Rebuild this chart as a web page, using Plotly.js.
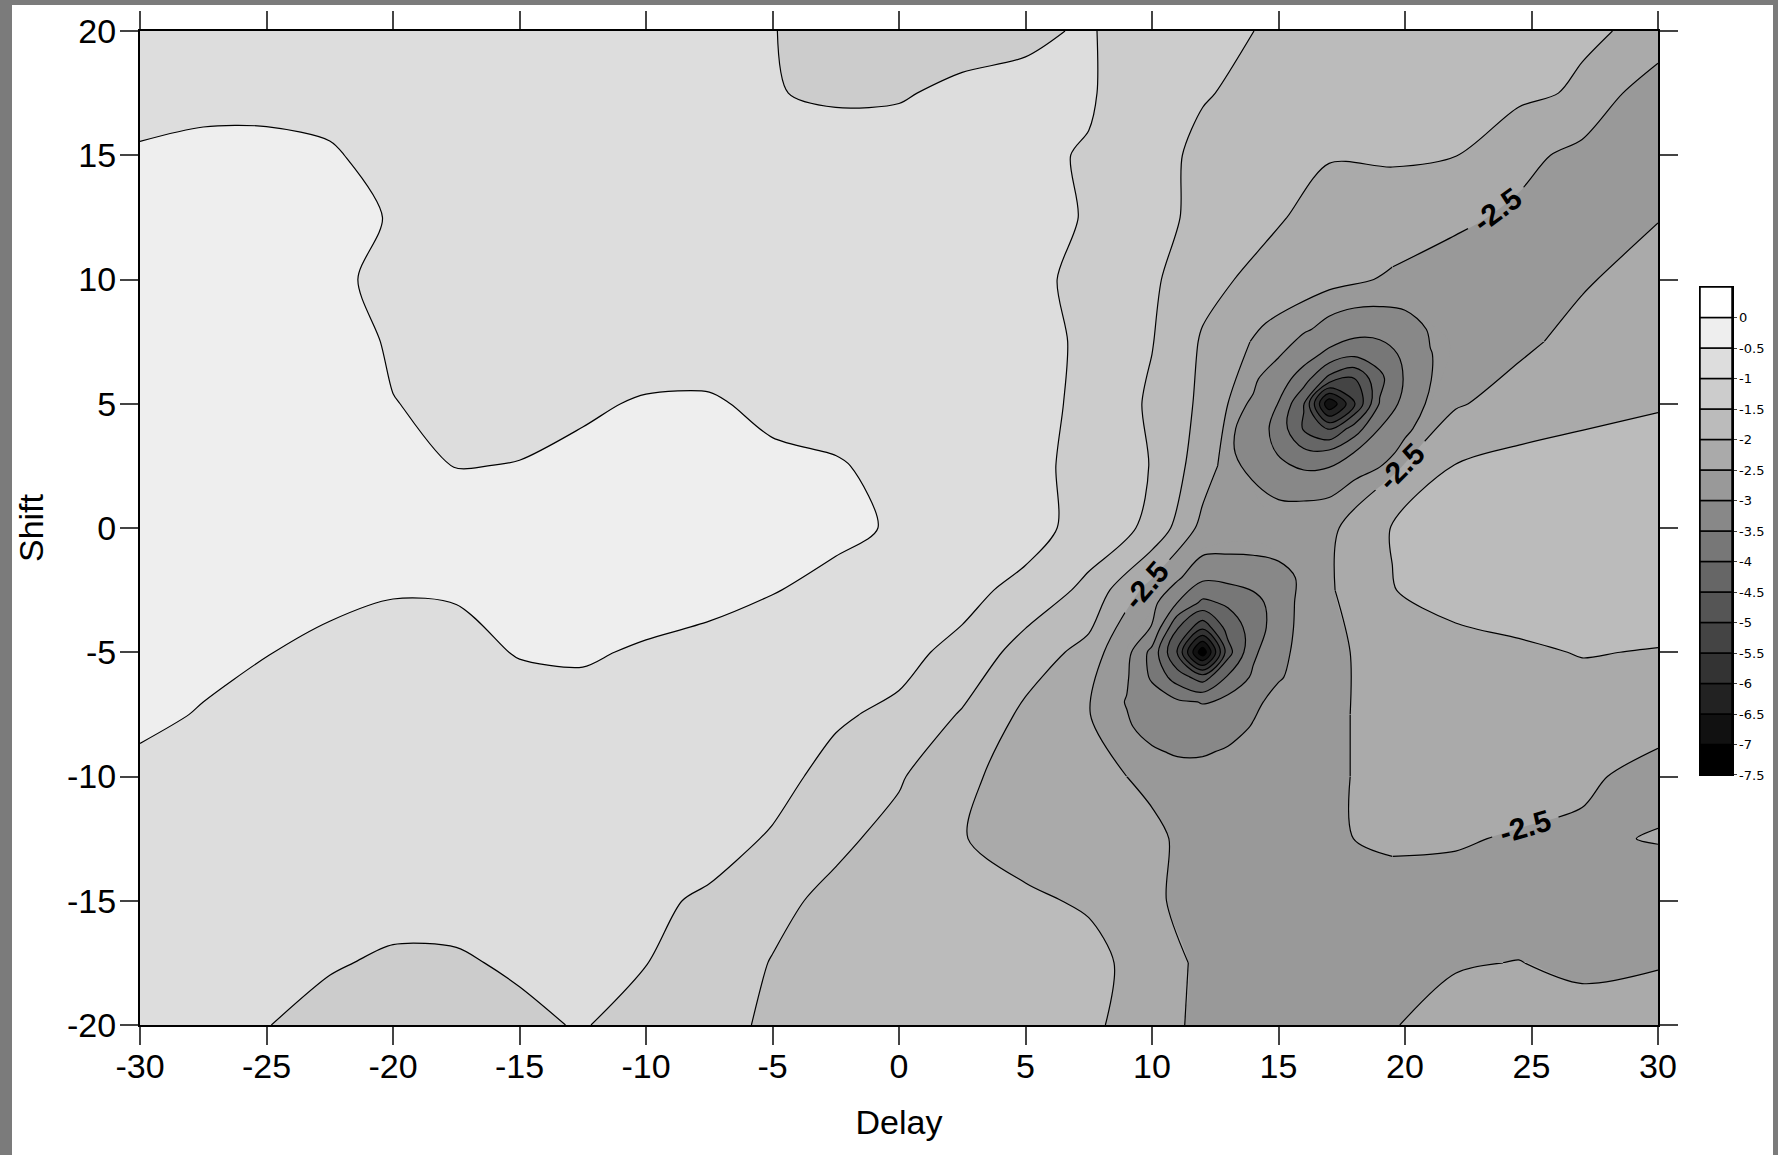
<!DOCTYPE html>
<html>
<head>
<meta charset="utf-8">
<script src="https://cdn.plot.ly/plotly-3.0.1.min.js"></script>
<style>
html,body{margin:0;padding:0;background:#7b7b7b;width:1778px;height:1155px;overflow:hidden;}
#chart{position:absolute;left:12px;top:5px;width:1761px;height:1150px;background:#fff;}
</style>
</head>
<body>
<div id="chart"></div>
<script>
// ---- coarse grid over the whole map (Delay on x, Shift on y) ----
const delay = [-30,-27.5,-25,-22.5,-20,-17.5,-15,-12.5,-10,-7.5,-5,-2.5,0,2.5,5,7.5,10,12,14.5,17,19.5,22,24.5,27,30];
const shift = [-20,-17.5,-15,-12.5,-10,-7.5,-5,-2.5,0,2.5,5,7.5,10,12.5,15,17.5,20];

const z_m20   = [-0.82,-0.85,-0.99,-1.12,-1.15,-1.14,-1.08,-0.97,-1.2,-1.4,-1.55,-1.62,-1.65,-1.68,-1.72,-1.9,-2.28,-2.62,-2.75,-2.7,-2.52,-2.35,-2.3,-2.3,-2.35];
const z_m17_5 = [-0.8,-0.82,-0.88,-0.97,-1.05,-1.04,-0.95,-0.92,-0.99,-1.25,-1.52,-1.65,-1.7,-1.75,-1.8,-1.92,-2.12,-2.65,-2.75,-2.7,-2.6,-2.53,-2.49,-2.6,-2.52];
const z_m15   = [-0.75,-0.77,-0.8,-0.85,-0.88,-0.88,-0.88,-0.92,-0.96,-1.03,-1.38,-1.62,-1.8,-1.96,-1.96,-2.03,-2.42,-2.7,-2.85,-2.8,-2.7,-2.7,-2.7,-2.7,-2.7];
const z_m12_5 = [-0.72,-0.74,-0.76,-0.78,-0.78,-0.8,-0.82,-0.85,-0.88,-0.92,-1.02,-1.4,-1.65,-1.99,-2.1,-2.2,-2.4,-2.7,-2.75,-2.55,-2.42,-2.45,-2.55,-2.55,-2.48];
const z_m10   = [-0.58,-0.65,-0.68,-0.7,-0.72,-0.74,-0.76,-0.78,-0.82,-0.86,-0.93,-1.07,-1.45,-1.9,-2.2,-2.35,-2.6,-2.85,-2.8,-2.55,-2.4,-2.3,-2.25,-2.45,-2.6];
const z_m7_5  = [-0.43,-0.52,-0.6,-0.65,-0.68,-0.68,-0.66,-0.66,-0.72,-0.8,-0.88,-0.97,-1.05,-1.55,-2.1,-2.48,-3.25,-3.35,-2.95,-2.55,-2.4,-2.3,-2.25,-2.3,-2.38];
const z_m5    = [-0.35,-0.42,-0.49,-0.6,-0.62,-0.6,-0.48,-0.45,-0.55,-0.65,-0.75,-0.85,-0.92,-1.08,-1.75,-2.15,-3.6,-7.4,-3.2,-2.55,-2.4,-2.25,-2.1,-1.97,-2.03];
const z_m2_5  = [-0.25,-0.25,-0.3,-0.4,-0.48,-0.47,-0.35,-0.3,-0.3,-0.35,-0.48,-0.62,-0.75,-0.9,-1.1,-1.65,-2.7,-3.7,-3.4,-2.55,-2.02,-1.72,-1.65,-1.62,-1.62];
const z_0     = [-0.2,-0.18,-0.17,-0.18,-0.22,-0.28,-0.28,-0.25,-0.22,-0.22,-0.28,-0.4,-0.55,-0.7,-0.85,-1.15,-1.62,-2.65,-2.85,-2.6,-1.97,-1.75,-1.65,-1.62,-1.65];
const z_2_5   = [-0.2,-0.18,-0.18,-0.22,-0.38,-0.51,-0.49,-0.4,-0.33,-0.3,-0.4,-0.47,-0.6,-0.72,-0.88,-1.13,-1.52,-2.25,-3.3,-3.5,-2.6,-1.98,-1.85,-1.8,-1.82];
const z_5     = [-0.2,-0.18,-0.18,-0.25,-0.49,-0.58,-0.6,-0.56,-0.46,-0.44,-0.62,-0.65,-0.72,-0.8,-0.88,-1.08,-1.58,-2.1,-3.1,-6.8,-3.6,-2.55,-2.3,-2.15,-2.03];
const z_7_5   = [-0.22,-0.2,-0.2,-0.3,-0.55,-0.6,-0.65,-0.68,-0.72,-0.76,-0.78,-0.8,-0.82,-0.85,-0.9,-1.05,-1.48,-2.05,-2.65,-3.1,-3.45,-2.95,-2.6,-2.35,-2.25];
const z_10    = [-0.25,-0.22,-0.22,-0.42,-0.6,-0.62,-0.67,-0.7,-0.74,-0.78,-0.8,-0.82,-0.84,-0.87,-0.9,-1.1,-1.42,-1.85,-2.15,-2.38,-2.55,-2.75,-2.72,-2.55,-2.3];
const z_12_5  = [-0.3,-0.3,-0.3,-0.35,-0.53,-0.62,-0.68,-0.72,-0.76,-0.8,-0.82,-0.83,-0.85,-0.87,-0.9,-1.02,-1.35,-1.62,-1.9,-2.2,-2.3,-2.4,-2.6,-2.6,-2.52];
const z_15    = [-0.48,-0.45,-0.44,-0.47,-0.6,-0.68,-0.72,-0.76,-0.8,-0.84,-0.88,-0.9,-0.9,-0.9,-0.95,-1.02,-1.35,-1.6,-1.85,-1.97,-1.93,-1.99,-2.35,-2.65,-2.85];
const z_17_5  = [-0.57,-0.56,-0.57,-0.6,-0.68,-0.72,-0.75,-0.78,-0.82,-0.88,-0.99,-1.03,-1.02,-0.95,-0.93,-0.97,-1.2,-1.47,-1.62,-1.72,-1.8,-1.86,-1.9,-2.06,-2.88];
const z_20    = [-0.6,-0.6,-0.62,-0.65,-0.7,-0.72,-0.75,-0.78,-0.82,-0.9,-0.99,-1.12,-1.12,-1.1,-1.05,-0.97,-1.2,-1.37,-1.53,-1.65,-1.75,-1.83,-1.89,-1.94,-2.09];

// ---- fine grid around the lower minimum (Delay 8..16, Shift -10..0) ----
const lowX = [8,9,10,11,12,13,14,15,16];
const lowY = [-10,-9,-8,-7,-6,-5,-4,-3,-2,-1,0];
const low_m10 = [-2.8,-2.8,-2.8,-2.8,-2.8,-2.8,-2.8,-2.8,-2.8];
const low_m9  = [-2.85,-2.9,-2.95,-3.05,-3.05,-2.95,-2.9,-2.85,-2.8];
const low_m8  = [-2.85,-2.95,-3.15,-3.3,-3.28,-3.18,-2.97,-2.85,-2.8];
const low_m7  = [-2.8,-3.02,-3.21,-3.42,-3.52,-3.32,-3.1,-2.85,-2.8];
const low_m6  = [-2.8,-2.95,-3.58,-4.25,-4.75,-3.94,-3.42,-3.04,-2.85];
const low_m5  = [-2.7,-2.85,-3.65,-5.05,-7.4,-4.7,-3.59,-3.13,-2.85];
const low_m4  = [-2.7,-2.75,-3.02,-4.45,-5.35,-4.3,-3.8,-3.22,-2.85];
const low_m3  = [-2.7,-2.7,-2.85,-3.5,-4.1,-3.92,-3.68,-3.26,-2.85];
const low_m2  = [-2.75,-2.8,-2.85,-2.92,-3.4,-3.37,-3.28,-3.2,-2.9];
const low_m1  = [-2.8,-2.85,-2.85,-2.85,-2.95,-2.98,-2.97,-2.9,-2.85];
const low_0   = [-2.8,-2.8,-2.8,-2.8,-2.8,-2.8,-2.8,-2.8,-2.8];

// ---- fine grid around the upper minimum (Delay 12..22, Shift 0..10) ----
const upX = [12,13,14,15,16,17,18,19,20,21,22];
const upY = [0,1,2,3,4,5,6,7,8,9,10];
const up_0  = [-2.85,-2.85,-2.85,-2.85,-2.85,-2.85,-2.85,-2.85,-2.85,-2.85,-2.85];
const up_1  = [-2.85,-2.86,-2.93,-2.96,-2.97,-2.93,-2.87,-2.85,-2.85,-2.85,-2.85];
const up_2  = [-2.85,-2.91,-3.01,-3.24,-3.32,-3.24,-3.01,-2.91,-2.85,-2.85,-2.85];
const up_3  = [-2.85,-2.93,-3.17,-3.53,-3.86,-3.83,-3.47,-3.11,-2.92,-2.85,-2.85];
const up_4  = [-2.85,-2.92,-3.18,-3.69,-4.56,-5.05,-4.26,-3.49,-3.05,-2.89,-2.85];
const up_5  = [-2.85,-2.88,-3.04,-3.52,-4.47,-6.95,-5.54,-3.96,-3.32,-2.92,-2.85];
const up_6  = [-2.85,-2.85,-2.94,-3.23,-3.77,-4.66,-5.02,-4.13,-3.45,-3.01,-2.87];
const up_7  = [-2.85,-2.85,-2.85,-2.96,-3.26,-3.63,-3.88,-3.76,-3.39,-3.01,-2.89];
const up_8  = [-2.85,-2.85,-2.85,-2.85,-2.95,-3.11,-3.29,-3.31,-3.16,-2.97,-2.87];
const up_9  = [-2.85,-2.85,-2.85,-2.85,-2.85,-2.9,-2.95,-2.97,-2.95,-2.9,-2.86];
const up_10 = [-2.85,-2.85,-2.85,-2.85,-2.85,-2.85,-2.85,-2.85,-2.85,-2.85,-2.85];

// ---- colour-bar levels and tick labels ----
const levelEdges  = [-7.5,-7,-6.5,-6,-5.5,-5,-4.5,-4,-3.5,-3,-2.5,-2,-1.5,-1,-0.5,0];
const levelLabels = ["-7.5","-7","-6.5","-6","-5.5","-5","-4.5","-4","-3.5","-3","-2.5","-2","-1.5","-1","-0.5","0"];
const xTicks = [-30,-25,-20,-15,-10,-5,0,5,10,15,20,25,30];
const xTickText = ["-30","-25","-20","-15","-10","-5","0","5","10","15","20","25","30"];
const yTicks = [-20,-15,-10,-5,0,5,10,15,20];
const yTickText = ["-20","-15","-10","-5","0","5","10","15","20"];
const labelledLevel = -2.5;

const zRows = [z_m20,z_m17_5,z_m15,z_m12_5,z_m10,z_m7_5,z_m5,z_m2_5,z_0,z_2_5,z_5,z_7_5,z_10,z_12_5,z_15,z_17_5,z_20];
const lowRows = [low_m10,low_m9,low_m8,low_m7,low_m6,low_m5,low_m4,low_m3,low_m2,low_m1,low_0];
const upRows = [up_0,up_1,up_2,up_3,up_4,up_5,up_6,up_7,up_8,up_9,up_10];

function grayHex(k){ const v = Math.max(0, Math.min(255, 17*k)); const h = v.toString(16).padStart(2,'0'); return '#'+h+h+h; }
// coarse map: every band below -2.5 is painted flat; the two minima are drawn from the fine grids
const coarseScale = [];
for (let k = 0; k < 15; k++) { const c = grayHex(Math.max(k, 9)); coarseScale.push([k/15, c]); coarseScale.push([(k+1)/15, c]); }
// fine grids are drawn negated so that only the regions deeper than -3 get painted
const fineScale = [[0,'rgba(0,0,0,0)'],[0.1,'rgba(0,0,0,0)']];
for (let j = 1; j <= 9; j++) { const c = grayHex(9 - j); fineScale.push([j/10, c]); fineScale.push([Math.min(1,(j+1)/10), c]); }
const boxColors = levelEdges.map((v,i) => grayHex(i));
const neg = rows => rows.map(r => r.map(v => -v));

const SM = 0.85, SMF = 1.0, LW = 1.2;
const traces = [];
traces.push({
  type:'contour', x: delay, y: shift, z: zRows,
  autocontour:false, zauto:false, zmin:-7.5, zmax:0,
  contours:{start:-7.5, end:0, size:0.5, coloring:'fill', showlines:false},
  colorscale: coarseScale, showscale:false, line:{width:0, smoothing:SM}, hoverinfo:'skip'
});
[[lowX, lowY, lowRows], [upX, upY, upRows]].forEach(g => {
  traces.push({
    type:'contour', x: g[0], y: g[1], z: neg(g[2]),
    autocontour:false, zauto:false, zmin:2.5, zmax:7.5,
    contours:{start:2.5, end:7.5, size:0.5, coloring:'fill', showlines:false},
    colorscale: fineScale, showscale:false, line:{width:0, smoothing:SMF}, hoverinfo:'skip'
  });
});
traces.push({
  type:'contour', x: delay, y: shift, z: zRows, autocontour:false,
  contours:{start:-2, end:0, size:0.5, coloring:'none'},
  line:{color:'#000', width:LW, smoothing:SM}, showscale:false, hoverinfo:'skip'
});
[[lowX, lowY, lowRows], [upX, upY, upRows]].forEach(g => {
  traces.push({
    type:'contour', x: g[0], y: g[1], z: neg(g[2]), autocontour:false,
    contours:{start:3, end:7.5, size:0.5, coloring:'none'},
    line:{color:'#000', width:LW, smoothing:SMF}, showscale:false, hoverinfo:'skip'
  });
});

// the -2.5 level is drawn in tiles so that its labels land where the original has them
function tile(c0, c1, r0, r1, lab){
  return {
    type:'contour', autocontour:false,
    x: delay.slice(c0, c1+1), y: shift.slice(r0, r1+1),
    z: zRows.slice(r0, r1+1).map(r => r.slice(c0, c1+1)),
    contours:{start:labelledLevel, end:labelledLevel, size:0.5, coloring:'none', showlabels:lab,
              labelfont:{family:'Liberation Sans, Arial, sans-serif', size:30, color:'#000', weight:'bold'}},
    line:{color:'#000', width:LW, smoothing:SM}, showscale:false, hoverinfo:'skip'
  };
}
const tiles = [
  [14,24,0,1,false],
  [14,20,1,4,false],
  [20,24,1,5,true],
  [18,20,4,5,false],
  [14,18,4,9,true],
  [18,24,5,7,false],
  [18,23,7,11,true],
  [23,24,7,11,false],
  [14,18,9,11,false],
  [14,20,11,16,false],
  [20,24,11,16,true]
];
tiles.forEach(t => traces.push(tile(t[0],t[1],t[2],t[3],t[4])));

traces.push({
  type:'bar', xaxis:'x2', yaxis:'y2',
  x: levelEdges.map(() => 0), y: levelEdges.map(() => 0.5), base: levelEdges,
  width: 1, marker:{color: boxColors, line:{color:'#000', width:1.5}},
  showlegend:false, hoverinfo:'skip'
});

const tickFont = {family:'Liberation Sans, Arial, sans-serif', size:34, color:'#000'};
const layout = {
  width:1761, height:1150,
  margin:{l:128, r:30, t:26, b:130},
  paper_bgcolor:'#fff', plot_bgcolor:'#fff',
  showlegend:false,
  xaxis:{domain:[0, 1518/1603], range:[-30,30], tickvals:xTicks, ticktext:xTickText, ticks:'outside', ticklen:18, tickwidth:2,
         showline:true, linewidth:2, linecolor:'#000', mirror:'ticks', showgrid:false, zeroline:false,
         tickfont:tickFont, automargin:false, ticklabelstandoff:-8,
         title:{text:'Delay', font:tickFont, standoff:26}},
  yaxis:{domain:[0,1], range:[-20,20], tickvals:yTicks, ticktext:yTickText, ticks:'outside', ticklen:18, tickwidth:2,
         showline:true, linewidth:2, linecolor:'#000', mirror:'ticks', showgrid:false, zeroline:false,
         tickfont:tickFont, automargin:false, ticklabelstandoff:-3,
         title:{text:'Shift', font:tickFont, standoff:28}},
  xaxis2:{domain:[0.97318, 0.99314], anchor:'y2', range:[-0.5,0.5], showticklabels:false, ticks:'',
          showline:true, mirror:true, linewidth:1.5, linecolor:'#000', showgrid:false, zeroline:false},
  yaxis2:{domain:[0.25151, 0.74245], anchor:'x2', side:'right', range:[-7.5,0.5],
          tickvals: levelEdges, ticktext: levelLabels, ticks:'outside', ticklen:3, tickwidth:1,
          showline:true, mirror:true, linewidth:1.5, linecolor:'#000', showgrid:false, zeroline:false,
          tickfont:{family:'DejaVu Sans, sans-serif', size:13, color:'#000'}}
};

Plotly.newPlot('chart', traces, layout, {displayModeBar:false, staticPlot:true}).then(function(){
  // the original prints contour labels with a plain hyphen
  document.querySelectorAll('#chart .contourlabels text').forEach(function(t){
    t.textContent = t.textContent.replace(/\u2212/g, '-');
  });
});
</script>
</body>
</html>
